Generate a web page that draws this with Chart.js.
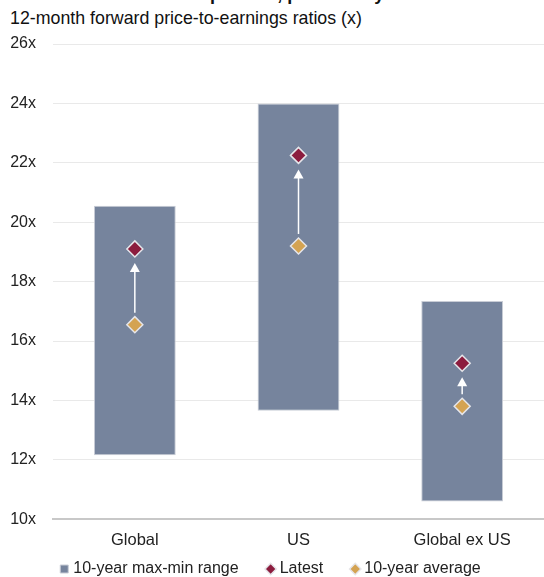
<!DOCTYPE html>
<html>
<head>
<meta charset="utf-8">
<script src="https://cdn.jsdelivr.net/npm/chart.js@4"></script>
<style>
  html, body { margin: 0; padding: 0; background: #fff; }
  body { width: 544px; height: 577px; position: relative; overflow: hidden; font-family: "Liberation Sans", Arial, sans-serif; }
  #title { position: absolute; left: 10px; top: -15px; font-size: 18px; font-weight: bold; color: #111; white-space: nowrap; line-height: 18px; }
  #subtitle { position: absolute; left: 10px; top: 8px; font-size: 17.8px; color: #111; white-space: nowrap; line-height: 20px; }
  #wrap { position: absolute; left: 0; top: 0; width: 544px; height: 618px; }
</style>
</head>
<body>
<div id="title">Stock valuations are expensive, particularly in the US.</div>
<div id="subtitle">12-month forward price-to-earnings ratios (x)</div>
<div id="wrap"><canvas id="peChart"></canvas></div>
<script>
const categories = ['Global', 'US', 'Global ex US'];
const rangeMin = [12.15, 13.65, 10.6];
const rangeMax = [20.55, 24.0, 17.35];
const latest = [19.1, 22.25, 15.25];
const tenYearAvg = [16.55, 19.2, 13.8];
const yTicks = [10, 12, 14, 16, 18, 20, 22, 24, 26];

// white arrow from the 10-year average up to the latest value
const arrowPlugin = {
    id: 'arrows',
    afterDatasetsDraw(chart) {
        const { ctx, scales: { x, y } } = chart;
        ctx.save();
        ctx.strokeStyle = '#ffffff';
        ctx.fillStyle = '#ffffff';
        ctx.lineWidth = 1.5;
        categories.forEach((c, i) => {
            const px = x.getPixelForValue(i);
            const yFrom = y.getPixelForValue(tenYearAvg[i]) - 12;
            const yTip = y.getPixelForValue(latest[i]) + 14;
            ctx.beginPath();
            ctx.moveTo(px, yFrom);
            ctx.lineTo(px, yTip + 8);
            ctx.stroke();
            ctx.beginPath();
            ctx.moveTo(px, yTip);
            ctx.lineTo(px - 5, yTip + 9);
            ctx.lineTo(px + 5, yTip + 9);
            ctx.closePath();
            ctx.fill();
        });
        ctx.restore();
    }
};

// pull the legend row up, closer to the axis labels
const legendShift = {
    id: 'legendShift',
    afterLayout(chart) {
        const lg = chart.legend;
        if (!lg) return;
        lg.top -= 31;
        lg.bottom -= 31;
    }
};

function initializePeChart() {
    const ctx = document.getElementById('peChart');
    if (!ctx) return;

    new Chart(ctx, {
        type: 'bar',
        data: {
            labels: categories,
            datasets: [{
                label: '10-year max-min range',
                data: categories.map((c, i) => [rangeMin[i], rangeMax[i]]),
                backgroundColor: '#76849d',
                borderColor: '#c9cdd6',
                borderWidth: 1,
                borderSkipped: false,
                barPercentage: 0.5,
                categoryPercentage: 1,
                pointStyle: 'rect',
                order: 3
            }, {
                type: 'line',
                label: 'Latest',
                data: latest,
                showLine: false,
                pointStyle: 'rectRot',
                pointRadius: 8,
                pointHoverRadius: 8,
                pointBackgroundColor: '#8c1c3e',
                backgroundColor: '#8c1c3e',
                pointBorderColor: '#e6e6ea',
                borderColor: '#ffffff',
                pointBorderWidth: 1.5,
                order: 1
            }, {
                type: 'line',
                label: '10-year average',
                data: tenYearAvg,
                showLine: false,
                pointStyle: 'rectRot',
                pointRadius: 8,
                pointHoverRadius: 8,
                pointBackgroundColor: '#d4a352',
                backgroundColor: '#d4a352',
                pointBorderColor: '#e6e6ea',
                borderColor: '#ffffff',
                pointBorderWidth: 1.5,
                order: 2
            }]
        },
        options: {
            responsive: true,
            maintainAspectRatio: false,
            animation: false,
            layout: {
                autoPadding: false,
                padding: { top: 44, bottom: 0, left: 0, right: 0 }
            },
            plugins: {
                legend: {
                    position: 'bottom',
                    labels: {
                        usePointStyle: true,
                        boxWidth: 2,
                        boxHeight: 8,
                        padding: 31,
                        color: '#222',
                        font: { family: 'Liberation Sans', size: 16 },
                        sort: (a, b) => a.datasetIndex - b.datasetIndex
                    }
                },
                tooltip: { enabled: false }
            },
            scales: {
                x: {
                    grid: { display: false, drawTicks: false },
                    border: { display: true, color: '#c8c8c8', width: 2 },
                    ticks: {
                        color: '#222',
                        padding: 11,
                        font: { family: 'Liberation Sans', size: 16.5 }
                    }
                },
                y: {
                    min: yTicks[0],
                    max: yTicks[yTicks.length - 1],
                    afterBuildTicks: (axis) => { axis.ticks = yTicks.map(v => ({ value: v })); },
                    afterFit: (scale) => { scale.width = 53; },
                    grid: { color: '#e9e9e9', drawTicks: false },
                    border: { display: false },
                    ticks: {
                        color: '#222',
                        padding: 17,
                        font: { family: 'Liberation Sans', size: 16 },
                        callback: (value) => value + 'x'
                    }
                }
            }
        },
        plugins: [arrowPlugin, legendShift]
    });
}

document.addEventListener('DOMContentLoaded', function () {
    initializePeChart();
});
</script>
</body>
</html>
